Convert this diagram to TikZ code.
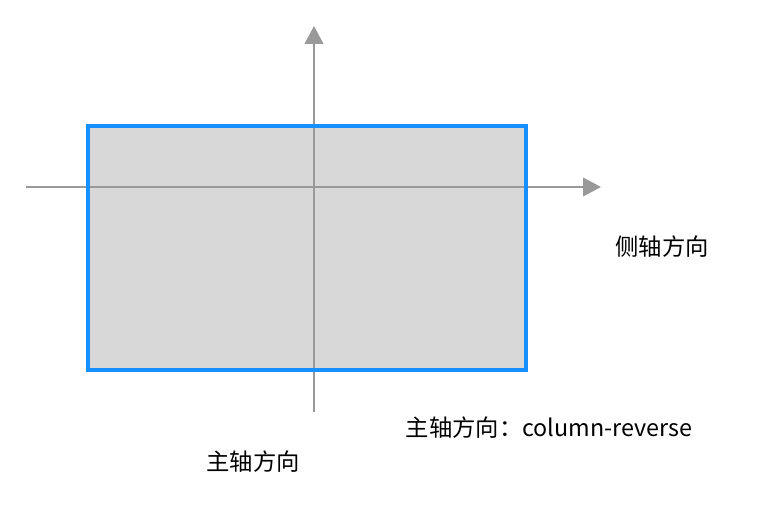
\documentclass[tikz,border=0pt]{standalone}
\usepackage{fontspec}
\setmainfont{Noto Sans CJK SC}
\usetikzlibrary{arrows.meta}
\definecolor{boxblue}{RGB}{22,144,255}
\definecolor{boxgray}{RGB}{216,216,216}
\definecolor{axisgray}{RGB}{153,153,153}
\tikzset{
  flexbox/.style={draw=boxblue,fill=boxgray,line width=3pt},
  axis/.style={draw=axisgray,line width=1.5pt,-{Triangle[length=13.5pt,width=14pt]}},
  label/.style={font=\fontsize{17.5}{20}\selectfont,text=black,inner sep=0pt}
}
\begin{document}
\begin{tikzpicture}[x=0.75pt,y=-0.75pt]
\useasboundingbox (0,0) rectangle (758,506);
\fill[boxgray] (88,126) rectangle (526,370);
\coordinate (hstart) at (26,187);
\coordinate (hend) at (601,187);
\coordinate (vstart) at (314,412);
\coordinate (vend) at (314,26);
\draw[axis] (hstart) -- (hend);
\draw[axis] (vstart) -- (vend);
\draw[flexbox,fill=none] (88,126) rectangle (526,370);
\node[label] (cross) at (662,247) {侧轴方向};
\node[label] (mainrev) at (549,428) {主轴方向：column-reverse};
\node[label] (main) at (253,462) {主轴方向};
\end{tikzpicture}
\end{document}
